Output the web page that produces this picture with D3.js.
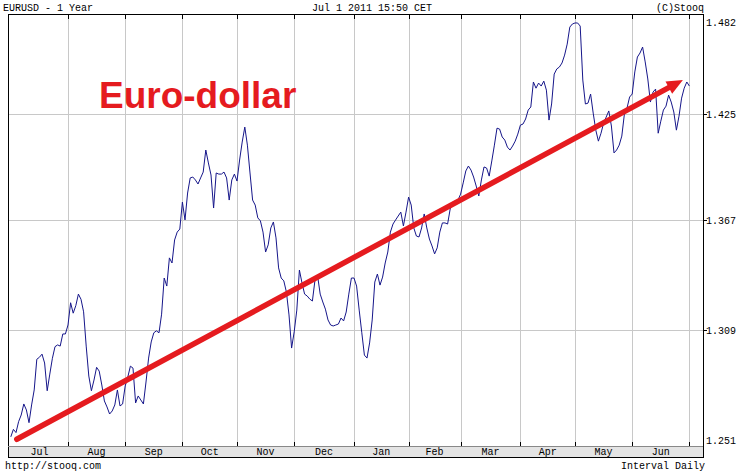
<!DOCTYPE html>
<html><head><meta charset="utf-8">
<script src="https://cdn.jsdelivr.net/npm/d3@7/dist/d3.min.js"></script>
<style>body{margin:0;background:#fff}svg{display:block}</style>
</head><body><svg id="c" width="739" height="472"></svg>
<script>
// ---- data ----
const monthLabels = ["Jul","Aug","Sep","Oct","Nov","Dec","Jan","Feb","Mar","Apr","May","Jun"];
const monthStartDay = [0,22,44,66,87,109,132,153,173,196,217,239,261]; // trading-day index of each month start
const yTicks = [1.251,1.309,1.367,1.425,1.482];
const rates = [
1.2555,1.2592,1.2576,1.2630,1.2663,1.2718,1.2688,1.2625,1.2713,1.2788,
1.2943,1.2953,1.2969,1.2924,1.2784,1.2868,1.2948,1.3007,1.3016,1.3010,
1.3072,1.3072,1.3118,1.3233,1.3179,1.3218,1.3278,1.3251,1.3186,1.3010,
1.2858,1.2784,1.2838,1.2902,1.2883,1.2813,1.2733,1.2703,1.2668,1.2683,
1.2713,1.2788,1.2708,1.2718,1.2808,1.2853,1.2908,1.2898,1.2723,1.2758,
1.2738,1.2718,1.2828,1.2949,1.3031,1.3078,1.3088,1.3078,1.3174,1.3362,
1.3320,1.3468,1.3441,1.3563,1.3605,1.3621,1.3766,1.3670,1.3815,1.3897,
1.3902,1.3886,1.3864,1.3897,1.3929,1.4050,1.3979,1.3913,1.3734,1.3924,
1.3918,1.3918,1.3929,1.3897,1.3777,1.3886,1.3918,1.3880,1.3995,1.4094,
1.4177,1.4077,1.3924,1.3777,1.3750,1.3681,1.3665,1.3605,1.3499,1.3537,
1.3627,1.3659,1.3574,1.3415,1.3362,1.3347,1.3289,1.3170,1.3000,1.3083,
1.3195,1.3404,1.3336,1.3278,1.3268,1.3252,1.3242,1.3352,1.3373,1.3278,
1.3237,1.3200,1.3144,1.3118,1.3113,1.3118,1.3123,1.3154,1.3139,1.3185,
1.3278,1.3362,1.3362,1.3320,1.3195,1.3078,1.2964,1.2949,1.3026,1.3144,
1.3341,1.3383,1.3325,1.3367,1.3441,1.3499,1.3605,1.3648,1.3670,1.3691,
1.3712,1.3638,1.3712,1.3793,1.3750,1.3627,1.3584,1.3579,1.3627,1.3702,
1.3627,1.3568,1.3531,1.3489,1.3521,1.3605,1.3654,1.3654,1.3648,1.3729,
1.3766,1.3772,1.3777,1.3809,1.3870,1.3935,1.3962,1.3940,1.3902,1.3853,
1.3799,1.3886,1.3957,1.3951,1.3907,1.3990,1.4077,1.4171,1.4166,1.4122,
1.4105,1.4066,1.4050,1.4072,1.4099,1.4138,1.4188,1.4194,1.4222,1.4272,
1.4289,1.4430,1.4395,1.4424,1.4407,1.4435,1.4384,1.4216,1.4306,1.4475,
1.4504,1.4515,1.4538,1.4583,1.4646,1.4744,1.4762,1.4768,1.4768,1.4750,
1.4441,1.4306,1.4311,1.4362,1.4255,1.4160,1.4099,1.4143,1.4199,1.4233,
1.4267,1.4183,1.4034,1.4050,1.4077,1.4127,1.4250,1.4283,1.4345,1.4362,
1.4487,1.4572,1.4595,1.4629,1.4544,1.4447,1.4317,1.4373,1.4390,1.4143,
1.4210,1.4272,1.4294,1.4356,1.4317,1.4261,1.4160,1.4238,1.4339,1.4395,
1.4430,1.4407
];
const trendStart = [2.3, 1.2543];
const trendEnd = [258.5, 1.4441];
const headerLeft = "EURUSD - 1 Year";
const headerMid = "Jul 1 2011 15:50 CET";
const headerRight = "(C)Stooq";
const footerLeft = "http://stooq.com";
const footerRight = "Interval Daily";
const annotation = "Euro-dollar";

// ---- layout ----
const L = 8, R = 703, T = 14, B = 446, BB = 457;
const svg = d3.select("#c");
const x = d3.scaleLinear().domain([0, 261]).range([10.8, 689.4]);
const y = d3.scaleLog().domain([1.251, 1.482]).range([B, T]);
const mono = "'Liberation Mono','DejaVu Sans Mono',monospace";

svg.append("rect").attr("width",739).attr("height",472).attr("fill","#fff");

// month band
svg.append("rect").attr("x",L).attr("y",B).attr("width",R-L).attr("height",BB-B).attr("fill","#e4e4e4");

// gridlines
const grid = svg.append("g").attr("stroke","#c8c8c8").attr("stroke-width",1);
monthStartDay.slice(1).forEach(d=>{
  const gx = Math.round(x(d))+0.5;
  grid.append("line").attr("x1",gx).attr("x2",gx).attr("y1",T).attr("y2",B);
});
yTicks.slice(1,-1).forEach(v=>{
  const gy = Math.round(y(v))+0.5;
  grid.append("line").attr("x1",L).attr("x2",R).attr("y1",gy).attr("y2",gy);
});

// data line
svg.append("clipPath").attr("id","clip").append("rect").attr("x",L).attr("y",T).attr("width",R-L).attr("height",B-T);
const line = d3.line().x((d,i)=>x(i)).y(d=>y(d));
svg.append("path").datum(rates).attr("d",line).attr("fill","none")
  .attr("stroke","#16168a").attr("stroke-width",1).attr("clip-path","url(#clip)");

// frame
const fr = svg.append("g").attr("stroke","#000").attr("stroke-width",1).attr("fill","none");
fr.append("rect").attr("x",L+0.5).attr("y",T+0.5).attr("width",R-L).attr("height",BB-T);
fr.append("line").attr("x1",L).attr("x2",R).attr("y1",B+0.5).attr("y2",B+0.5).attr("stroke","#888");
// month ticks top & bottom
monthStartDay.slice(1).forEach(d=>{
  const gx = Math.round(x(d))+0.5;
  fr.append("line").attr("x1",gx).attr("x2",gx).attr("y1",T).attr("y2",T+5);
  fr.append("line").attr("x1",gx).attr("x2",gx).attr("y1",B-4).attr("y2",B);
});
// right ticks
yTicks.slice(1,-1).forEach(v=>{
  const gy = Math.round(y(v))+0.5;
  fr.append("line").attr("x1",R).attr("x2",R+4).attr("y1",gy).attr("y2",gy);
});

// right axis labels
svg.append("g").selectAll("text").data(yTicks).join("text")
  .attr("x",706)
  .attr("y",(v,i)=> i===0 ? y(v)-6+4 : (i===yTicks.length-1 ? y(v)+8+4 : y(v)+4))
  .attr("font-family",mono).attr("font-size",10).attr("fill","#000")
  .text(v=>v.toFixed(3));

// month labels
svg.append("g").selectAll("text").data(monthLabels).join("text")
  .attr("x",(m,i)=>(x(monthStartDay[i])+x(monthStartDay[i+1]))/2)
  .attr("y",455).attr("text-anchor","middle")
  .attr("font-family",mono).attr("font-size",10).attr("fill","#000")
  .text(m=>m);

// header / footer
const txt = (s,tx,ty,anchor)=>svg.append("text").attr("x",tx).attr("y",ty).attr("text-anchor",anchor)
  .attr("font-family",mono).attr("font-size",10).attr("fill","#000").text(s);
txt(headerLeft,3,11,"start");
txt(headerMid,372,11,"middle");
txt(headerRight,704,11,"end");
txt(footerLeft,5,469,"start");
txt(footerRight,705,469,"end");

// trend arrow
const red = "#e51b1f";
const x1 = x(trendStart[0]), y1 = y(trendStart[1]);
const x2 = x(trendEnd[0]), y2 = y(trendEnd[1]);
const ang = Math.atan2(y2-y1, x2-x1);
const headLen = 16, headHalf = 7;
const bx = x2 - headLen*Math.cos(ang), by = y2 - headLen*Math.sin(ang);
svg.append("line").attr("x1",x1).attr("y1",y1).attr("x2",bx+2*Math.cos(ang)).attr("y2",by+2*Math.sin(ang))
  .attr("stroke",red).attr("stroke-width",5.5).attr("stroke-linecap","round");
const px = -Math.sin(ang), py = Math.cos(ang);
svg.append("path").attr("d",`M${x2},${y2}L${bx+px*headHalf},${by+py*headHalf}L${bx-px*headHalf},${by-py*headHalf}Z`)
  .attr("fill",red);

// annotation
svg.append("text").attr("x",99).attr("y",108)
  .attr("font-family","'Liberation Sans',Arial,sans-serif").attr("font-weight","bold")
  .attr("font-size",37).attr("fill",red).text(annotation);
</script>
</body></html>
